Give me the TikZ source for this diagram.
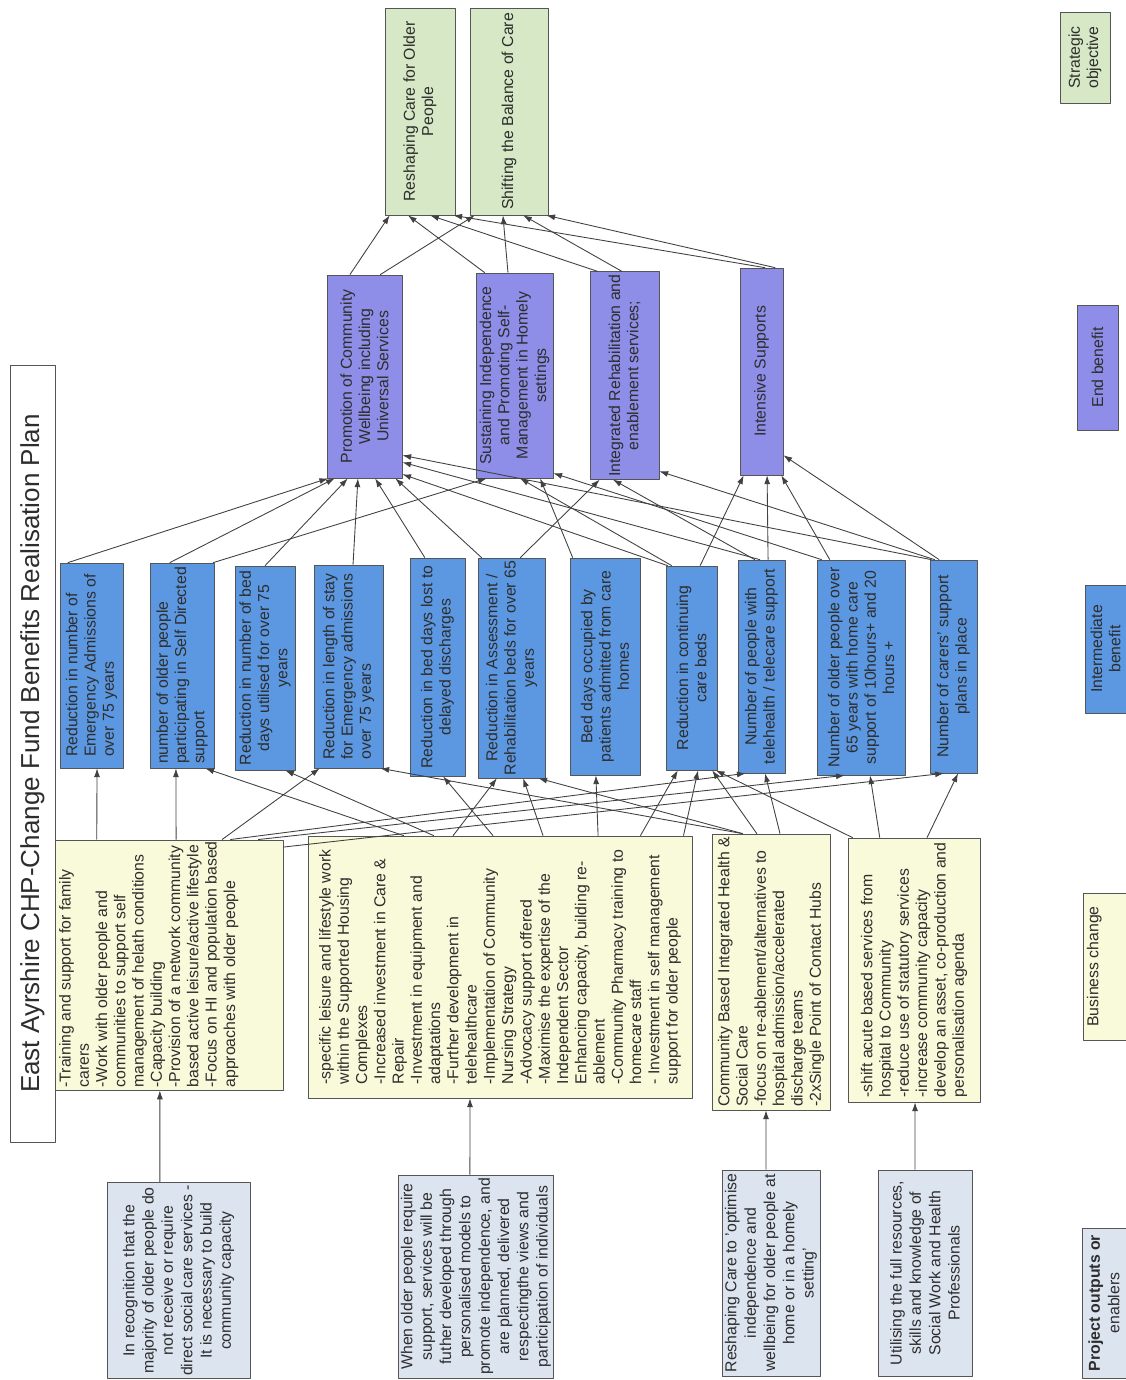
\documentclass[tikz,border=0pt]{standalone}
\usepackage{fontspec}
\setmainfont{Liberation Sans}
\usetikzlibrary{calc,arrows.meta}

\definecolor{stratgreen}{RGB}{214,232,198}
\definecolor{endpurple}{RGB}{142,142,232}
\definecolor{interblue}{RGB}{92,152,226}
\definecolor{busyellow}{RGB}{248,250,218}
\definecolor{projblue}{RGB}{220,228,240}
\definecolor{edgegrey}{RGB}{85,85,85}
\definecolor{inkgrey}{RGB}{45,45,45}
\definecolor{linegrey}{RGB}{65,65,65}

% points on the sides of a box turned by 90 degrees (as seen on the page)
\newcommand{\TopAt}[2]{($(#1.north east)!#2!(#1.south east)$)}
\newcommand{\BotAt}[2]{($(#1.north west)!#2!(#1.south west)$)}
\newcommand{\RgtAt}[2]{($(#1.south west)!#2!(#1.south east)$)}

\begin{document}
\begin{tikzpicture}[x=0.02cm,y=-0.02cm,line join=round,
    plate/.style={draw=edgegrey,rotate=90,inner sep=1.5pt,text=inkgrey,
      font=\fontsize{9}{10.4}\selectfont},
    strat/.style={plate,fill=stratgreen,align=center},
    endb/.style={plate,fill=endpurple,align=center},
    interb/.style={plate,fill=interblue,align=center},
    busc/.style={plate,fill=busyellow,align=left},
    proj/.style={plate,fill=projblue,align=center,font=\fontsize{9}{11}\selectfont},
    link/.style={draw=linegrey,line width=0.5pt,-{Latex[length=5pt,width=3.4pt]}}]
  \useasboundingbox (0,0) rectangle (1126,1380);

  % title
  \node (title) [plate,fill=white,minimum width=15.54cm,minimum height=0.9cm,
    font=\fontsize{14.8}{17}\selectfont] at (32.5,753.5)
    {East Ayrshire CHP-Change Fund Benefits Realisation Plan};

  % strategic objectives
  \node (s1) [strat,minimum width=4.14cm,minimum height=1.4cm] at (420,111.5)
    {Reshaping Care for Older\\People};
  \node (s2) [strat,minimum width=4.14cm,minimum height=1.56cm] at (509,111.5)
    {Shifting the Balance of Care};

  % end benefits
  \node (e1) [endb,minimum width=4.06cm,minimum height=1.5cm] at (364.5,376.5)
    {Promotion of Community\\Wellbeing including\\Universal Services};
  \node (e2) [endb,minimum width=4.1cm,minimum height=1.54cm] at (514.5,375.5)
    {Sustaining Independence\\and Promoting Self-\\Management in Homely\\settings};
  \node (e3) [endb,minimum width=4.1cm,minimum height=1.38cm] at (624.5,375.5)
    {Integrated Rehabilitation and\\enablement services;};
  \node (e4) [endb,minimum width=4.14cm,minimum height=0.86cm] at (761.5,371.5)
    {Intensive Supports};

  % intermediate benefits
  \node (i1) [interb,align=left,minimum width=4.1cm,minimum height=1.26cm] at (91.5,665.5)
    {Reduction in number of\\Emergency Admissions of\\over 75 years};
  \node (i2) [interb,align=left,minimum width=4.1cm,minimum height=1.28cm] at (182,665.5)
    {number of older people\\participating in Self Directed\\support};
  \node (i3) [interb,minimum width=4.08cm,minimum height=1.2cm] at (265,668)
    {Reduction in number of bed\\days utilised for over 75\\years};
  \node (i4) [interb,align=left,minimum width=4.06cm,minimum height=1.38cm] at (348.5,666.5)
    {Reduction in length of stay\\for Emergency admissions\\over 75 years};
  \node (i5) [interb,minimum width=4.36cm,minimum height=1.1cm] at (437.5,667)
    {Reduction in bed days lost to\\delayed discharges};
  \node (i6) [interb,minimum width=4.32cm,minimum height=1.34cm] at (511.5,668)
    {Reduction in Assessment /\\Rehabilitation beds for over 65\\years};
  \node (i7) [interb,minimum width=4.34cm,minimum height=1.4cm] at (605,666.5)
    {Bed days occupied by\\patients admitted from care\\homes};
  \node (i8) [interb,minimum width=4.08cm,minimum height=1.02cm] at (691.5,668)
    {Reduction in continuing\\care beds};
  \node (i9) [interb,minimum width=4.26cm,minimum height=0.94cm] at (761.5,666.5)
    {Number of people with\\telehealth / telecare support};
  \node (i10) [interb,minimum width=4.3cm,minimum height=1.76cm] at (861,667.5)
    {Number of older people over\\65 years with home care\\support of 10hours+ and 20\\hours +};
  \node (i11) [interb,minimum width=4.26cm,minimum height=0.94cm] at (953.5,666.5)
    {Number of carers' support\\plans in place};

  % business change
  \node (b1) [busc,minimum width=5cm,minimum height=4.56cm] at (169,965)
    {\parbox[c][4.45cm][t]{4.9cm}{\begin{tabular}[t]{@{}l@{}}
      -Training and support for family\\carers\\
      -Work with older people and\\communities to support self\\
      management of helath conditions\\-Capacity building\\
      -Provision of a network community\\based active leisure/active lifestyle\\
      -Focus on HI and population based\\approaches with older people
    \end{tabular}}};
  \node (b2) [busc,minimum width=5.24cm,minimum height=7.68cm] at (500,967)
    {-specific leisure and lifestyle work\\within the Supported Housing\\Complexes\\
     -Increased investment in Care \&\\Repair\\-Investment in equipment and\\adaptations\\
     -Further development in\\telehealthcare\\-Implementation of Community\\
     Nursing Strategy\\-Advocacy support offered\\-Maximise the expertise of the\\
     Independent Sector\\Enhancing capacity, building re-\\ablement\\
     -Community Pharmacy training to\\homecare staff\\
     - Investment in self management\\support for older people};
  \node (b3) [busc,minimum width=5.52cm,minimum height=2.36cm] at (771,972)
    {Community Based Integrated Health \&\\Social Care\\
     -focus on re-ablement/alternatives to\\hospital admission/accelerated\\
     discharge teams\\-2xSingle Point of Contact Hubs};
  \node (b4) [busc,minimum width=5.28cm,minimum height=2.64cm] at (914,970)
    {-shift acute based services from\\hospital to Community\\
     -reduce use of statutory services\\-increase community capacity\\
     develop an asset, co-production and\\personalisation agenda};

  % project outputs or enablers
  \node (p1) [proj,minimum width=3.9cm,minimum height=2.86cm] at (178.5,1280.5)
    {In recognition that the\\majority of older people do\\not receive or require\\
     direct social care services -\\It is necessary to build\\community capacity};
  \node (p2) [proj,minimum width=4.06cm,minimum height=3.04cm] at (476,1276.5)
    {When older people require\\support, services will be\\futher developed through\\
     personalised models to\\promote independence, and\\are planned, delivered\\
     respectingthe views and\\participation of individuals};
  \node (p3) [proj,minimum width=4.12cm,minimum height=1.96cm] at (771,1273)
    {Reshaping Care to 'optimise\\independence and\\wellbeing for older people at\\
     home or in a homely\\setting'};
  \node (p4) [proj,minimum width=4.12cm,minimum height=1.88cm] at (925,1273)
    {Utilising the full resources,\\skills and knowledge of\\Social Work and Health\\
     Professionals};

  % key
  \node (k1) [strat,minimum width=1.82cm,minimum height=1cm] at (1085,57.5)
    {Strategic\\objective};
  \node (k2) [endb,minimum width=2.5cm,minimum height=0.82cm] at (1097.5,367.5)
    {End benefit};
  \node (k3) [interb,minimum width=2.56cm,minimum height=0.82cm] at (1105.5,649)
    {Intermediate\\benefit};
  \node (k4) [busc,minimum width=2.94cm,minimum height=0.86cm,
    text height=6.5pt,text depth=13.5pt] at (1104.5,966.5) {Business change};
  \node (k5) [proj,minimum width=3cm,minimum height=0.88cm] at (1104,1303)
    {\textbf{Project outputs or}\\enablers};

  % enablers to business change
  \draw[link] \TopAt{p1}{0.37} -- \BotAt{b1}{0.46};
  \draw[link] \TopAt{p2}{0.461} -- \BotAt{b2}{0.422};
  \draw[link] \TopAt{p3}{0.449} -- \BotAt{b3}{0.458};
  \draw[link] \TopAt{p4}{0.394} -- \BotAt{b4}{0.508};

  % business change to intermediate benefits
  \draw[link] \TopAt{b1}{0.184} -- \BotAt{i1}{0.587};
  \draw[link] \TopAt{b1}{0.531} -- \BotAt{i2}{0.406};
  \draw[link] \TopAt{b1}{0.732} -- \BotAt{i4}{0.087};
  \draw[link] \TopAt{b1}{0.768} -- \BotAt{i9}{0.17};
  \draw[link] \TopAt{b1}{0.89} -- \BotAt{i10}{0.318};
  \draw[link] \RgtAt{b1}{0.97} -- \BotAt{i11}{0.3};
  \draw[link] \TopAt{b2}{0.25} -- \BotAt{i2}{0.86};
  \draw[link] \TopAt{b2}{0.328} -- \BotAt{i3}{0.833};
  \draw[link] \TopAt{b2}{0.378} -- \BotAt{i6}{0.284};
  \draw[link] \TopAt{b2}{0.482} -- \BotAt{i5}{0.6};
  \draw[link] \TopAt{b2}{0.612} -- \BotAt{i6}{0.672};
  \draw[link] \TopAt{b2}{0.755} -- \BotAt{i7}{0.371};
  \draw[link] \TopAt{b2}{0.865} -- \BotAt{i8}{0.235};
  \draw[link] \TopAt{b2}{0.977} -- \BotAt{i8}{0.627};
  \draw[link] \TopAt{b3}{0.263} -- \BotAt{i4}{0.957};
  \draw[link] \TopAt{b3}{0.263} -- \BotAt{i6}{0.896};
  \draw[link] \TopAt{b3}{0.381} -- \BotAt{i8}{0.9};
  \draw[link] \TopAt{b3}{0.576} -- \BotAt{i9}{0.574};
  \draw[link] \TopAt{b4}{0.038} -- \BotAt{i8}{0.97};
  \draw[link] \TopAt{b4}{0.242} -- \BotAt{i10}{0.602};
  \draw[link] \TopAt{b4}{0.598} -- \BotAt{i11}{0.596};

  % intermediate to end benefits
  \draw[link] \TopAt{i1}{0.127} -- \BotAt{e1}{0.02};
  \draw[link] \TopAt{i2}{0.31} -- \BotAt{e1}{0.107};
  \draw[link] \TopAt{i3}{0.5} -- \BotAt{e1}{0.28};
  \draw[link] \TopAt{i4}{0.565} -- \BotAt{e1}{0.413};
  \draw[link] \TopAt{i5}{0.273} -- \BotAt{e1}{0.64};
  \draw[link] \TopAt{i6}{0.06} -- \BotAt{e1}{0.907};
  \draw[link] \TopAt{i8}{0.04} -- \RgtAt{e1}{0.02};
  \draw[link] \TopAt{i9}{0.468} -- \RgtAt{e1}{0.079};
  \draw[link] \TopAt{i11}{0.04} -- \RgtAt{e1}{0.113};
  \draw[link] \TopAt{i2}{0.98} -- \BotAt{e2}{0.143};
  \draw[link] \TopAt{i7}{0.043} -- \BotAt{e2}{0.83};
  \draw[link] \TopAt{i8}{0.118} -- \BotAt{e2}{0.571};
  \draw[link] \TopAt{i10}{0.057} -- \RgtAt{e2}{0.025};
  \draw[link] \TopAt{i6}{0.627} -- \BotAt{e3}{0.145};
  \draw[link] \TopAt{i9}{0.36} -- \BotAt{e3}{0.333};
  \draw[link] \TopAt{i11}{0.106} -- \RgtAt{e3}{0.04};
  \draw[link] \TopAt{i8}{0.667} -- \BotAt{e4}{0.093};
  \draw[link] \TopAt{i9}{0.638} -- \BotAt{e4}{0.628};
  \draw[link] \TopAt{i10}{0.148} -- \BotAt{e4}{0.953};
  \draw[link] \TopAt{i11}{0.2} -- \RgtAt{e4}{0.097};

  % end benefits to strategic objectives
  \draw[link] \TopAt{e1}{0.307} -- \BotAt{s1}{0.071};
  \draw[link] \TopAt{e1}{0.707} -- \BotAt{s2}{0.064};
  \draw[link] \TopAt{e2}{0.117} -- \BotAt{s1}{0.329};
  \draw[link] \TopAt{e2}{0.416} -- \BotAt{s2}{0.423};
  \draw[link] \TopAt{e3}{0.116} -- \BotAt{s1}{0.643};
  \draw[link] \TopAt{e3}{0.464} -- \BotAt{s2}{0.679};
  \draw[link] \TopAt{e4}{0.581} -- \BotAt{s1}{0.971};
  \draw[link] \TopAt{e4}{0.814} -- \BotAt{s2}{0.974};
\end{tikzpicture}
\end{document}
